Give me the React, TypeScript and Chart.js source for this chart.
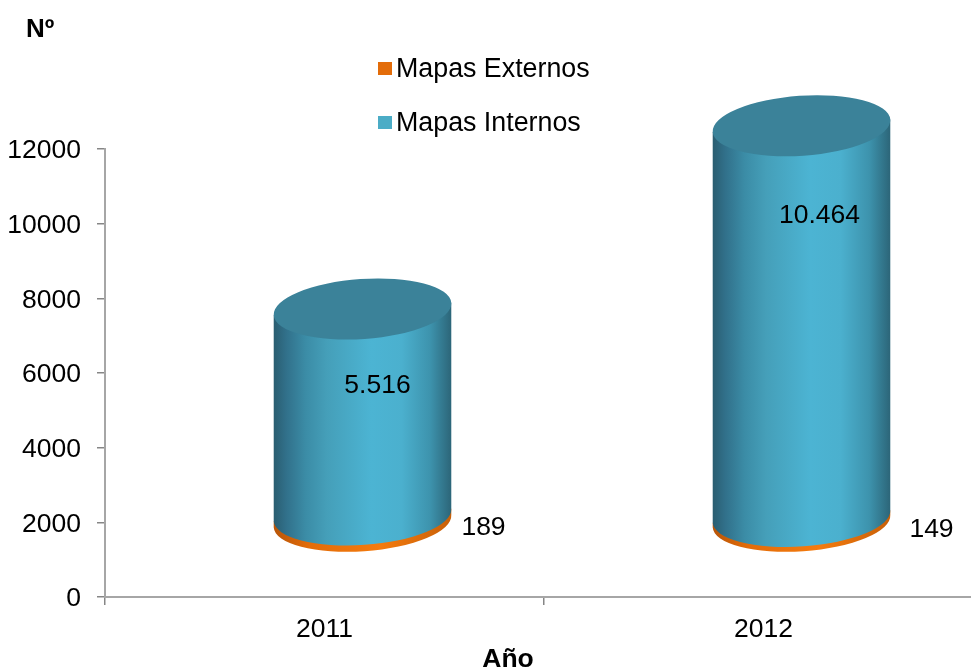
import React, { useEffect, useRef } from "react";
import { Chart, registerables } from "chart.js";

Chart.register(...registerables);

const categories = ["2011", "2012"];
const mapasExternos = [189, 149];
const mapasInternos = [5516, 10464];
const seriesNames = ["Mapas Externos", "Mapas Internos"];
const yTitle = "Nº";
const xTitle = "Año";

const FONT = "'Liberation Sans', Arial, sans-serif";
const ORANGE = "#E36C09";
const BLUE = "#4BACC6";
const DEPTH_X = 38;
const DEPTH_Y = -75;
const RY = 30;
const TILT = (-4 * Math.PI) / 180;
const externalLabelShift = [
  [159, 6],
  [168, 8],
];
const internalLabelShift = [
  [53, 77],
  [56, 90],
];

const fmt = (v: number) => String(v).replace(/\B(?=(\d{3})+$)/g, ".");

function bodyGradient(ctx: CanvasRenderingContext2D, l: number, r: number, stops: [number, string][]) {
  const g = ctx.createLinearGradient(l, 0, r, 0);
  stops.forEach(([o, c]) => g.addColorStop(o, c));
  return g;
}

const blueStops: [number, string][] = [
  [0, "#2A5D70"],
  [0.07, "#31708A"],
  [0.18, "#3B8CA6"],
  [0.3, "#459FB9"],
  [0.55, "#4CB4D3"],
  [0.72, "#4BB0CE"],
  [0.88, "#3D93AD"],
  [1, "#2C6578"],
];
const orangeStops: [number, string][] = [
  [0, "#B85508"],
  [0.2, "#E36C09"],
  [0.6, "#F47B0E"],
  [1, "#C86008"],
];

function cylinder(
  ctx: CanvasRenderingContext2D,
  cx: number,
  rx: number,
  yBottom: number,
  yTop: number,
  fill: CanvasGradient,
  cap: string | null,
) {
  const ex = rx * Math.cos(TILT);
  const ey = rx * Math.sin(TILT);
  ctx.beginPath();
  ctx.ellipse(cx, yBottom, rx, RY, TILT, 0, Math.PI);
  ctx.lineTo(cx - ex, yTop - ey);
  ctx.lineTo(cx + ex, yTop + ey);
  ctx.closePath();
  ctx.fillStyle = fill;
  ctx.fill();
  if (cap) {
    ctx.beginPath();
    ctx.ellipse(cx, yTop, rx, RY, TILT, 0, Math.PI * 2);
    ctx.fillStyle = cap;
    ctx.fill();
  }
}

const cylinderPlugin = {
  id: "cylinders",
  beforeDatasetDraw() {
    return false;
  },
  afterDatasetsDraw(chart: any) {
    const ctx: CanvasRenderingContext2D = chart.ctx;
    ctx.save();
    chart.data.datasets.forEach((ds: any, di: number) => {
      chart.getDatasetMeta(di).data.forEach((el: any) => {
        const p = el.getProps(["x", "y", "base", "width"], true);
        const cx = p.x + DEPTH_X;
        const rx = p.width / 2;
        const fill = bodyGradient(ctx, cx - rx, cx + rx, di === 0 ? orangeStops : blueStops);
        cylinder(ctx, cx, rx, p.base + DEPTH_Y, p.y + DEPTH_Y, fill, di === 1 ? "#3B8299" : null);
      });
    });
    ctx.fillStyle = "#000";
    ctx.textAlign = "center";
    ctx.textBaseline = "middle";
    ctx.font = `26.5px ${FONT}`;
    chart.getDatasetMeta(0).data.forEach((el: any, i: number) => {
      ctx.fillText(fmt(mapasExternos[i]), el.x + externalLabelShift[i][0], el.base + DEPTH_Y + externalLabelShift[i][1]);
    });
    chart.getDatasetMeta(1).data.forEach((el: any, i: number) => {
      ctx.fillText(fmt(mapasInternos[i]), el.x + internalLabelShift[i][0], el.y + DEPTH_Y + internalLabelShift[i][1]);
    });
    // axis title for the categories
    ctx.font = `bold 26.5px ${FONT}`;
    ctx.fillText(xTitle, 508, 660);
    // legend
    ctx.textAlign = "left";
    ctx.font = `26.8px ${FONT}`;
    chart.data.datasets.forEach((ds: any, i: number) => {
      const y = 68 + i * 54;
      ctx.fillStyle = ds.backgroundColor;
      ctx.fillRect(378, y - 6, 14, 13);
      ctx.fillStyle = "#000";
      ctx.fillText(ds.label, 396, y + 2);
    });
    // value-axis caption
    ctx.font = `bold 26px ${FONT}`;
    ctx.fillText(yTitle, 26, 30);
    ctx.restore();
  },
};

export default function App() {
  const ref = useRef<HTMLCanvasElement>(null);
  useEffect(() => {
    document.body.style.margin = "0";
    document.body.style.background = "#fff";
    const chart = new Chart(ref.current!, {
      type: "bar",
      plugins: [cylinderPlugin],
      data: {
        labels: categories,
        datasets: [
          { label: seriesNames[0], data: mapasExternos, backgroundColor: ORANGE, barThickness: 178, stack: "s" },
          { label: seriesNames[1], data: mapasInternos, backgroundColor: BLUE, barThickness: 178, stack: "s" },
        ],
      },
      options: {
        animation: false,
        responsive: false,
        devicePixelRatio: 1,
        layout: { padding: { top: 149, left: 0, right: 0, bottom: 0 } },
        plugins: { legend: { display: false }, title: { display: false }, tooltip: { enabled: false } },
        scales: {
          x: {
            stacked: true,
            border: { color: "#A6A6A6", width: 2 },
            grid: { drawOnChartArea: false, drawTicks: true, tickLength: 8, color: "#868686", lineWidth: 1.5 },
            ticks: { color: "#000", font: { family: FONT, size: 26.5 }, padding: 9, maxRotation: 0 },
            afterFit(s: any) {
              s.height = 73;
            },
          },
          y: {
            stacked: true,
            min: 0,
            max: 12000,
            border: { color: "#A6A6A6", width: 2 },
            grid: { drawOnChartArea: false, drawTicks: true, tickLength: 8, color: "#868686", lineWidth: 1.5 },
            ticks: {
              stepSize: 2000,
              color: "#000",
              font: { family: FONT, size: 26.5 },
              padding: 16,
              labelOffset: 2,
              callback: (v: number) => String(v),
            },
            afterFit(s: any) {
              s.width = 105;
            },
          },
        },
      } as any,
    });
    return () => chart.destroy();
  }, []);
  return (
    <div style={{ width: 971, height: 670, overflow: "hidden" }}>
      <canvas ref={ref} width={983} height={670} style={{ display: "block" }} />
    </div>
  );
}
